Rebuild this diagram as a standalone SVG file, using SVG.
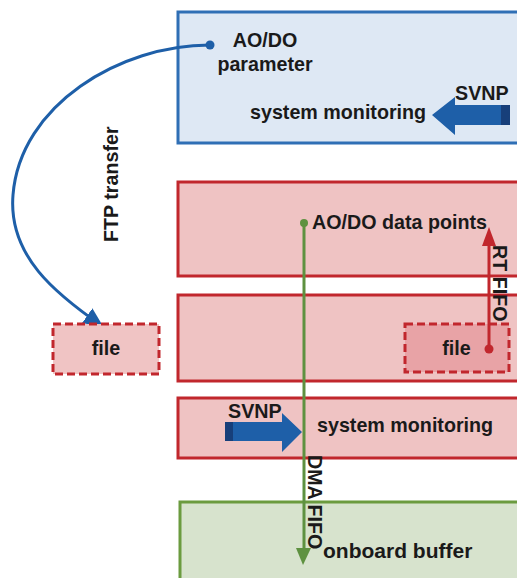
<svg xmlns="http://www.w3.org/2000/svg" width="517" height="578" viewBox="0 0 517 578">
<style>
text{font-family:"Liberation Sans",Arial,sans-serif;font-weight:bold;font-size:19.7px;fill:#1a1a1a}
.blue{fill:#DEE8F4;stroke:#2F6FB5;stroke-width:3}
.red{fill:#EFC3C3;stroke:#C1272D;stroke-width:3}
.green{fill:#D7E3CD;stroke:#6B9B3F;stroke-width:3}
.dash{stroke:#C1272D;stroke-width:3;stroke-dasharray:8 4}
.barrow{fill:#1E5FA8}
.bdark{fill:#173F7A}
</style>
<defs>
<marker id="ab" markerWidth="20" markerHeight="18" refX="18" refY="9" orient="auto" markerUnits="userSpaceOnUse" viewBox="0 0 20 18">
<path d="M0,0 L20,9 L0,18 z" fill="#1E5FA8"/>
</marker>
</defs>
<g id="blue-box">
<rect class="blue" x="178" y="12" width="360" height="131"/>
<text x="265" y="47" text-anchor="middle">AO/DO</text>
<text x="265" y="71" text-anchor="middle">parameter</text>
<text x="250" y="119">system monitoring</text>
<text x="455" y="100">SVNP</text>
<polygon class="barrow" points="432,115 455,97 455,105 510,105 510,125 455,125 455,135"/>
<rect class="bdark" x="501" y="105" width="9" height="20"/>
</g>
<g id="red-box-1">
<rect class="red" x="178" y="182" width="360" height="94"/>
<text x="312" y="229">AO/DO data points</text>
</g>
<g id="red-box-2">
<rect class="red" x="178" y="295" width="360" height="86"/>
<rect x="405" y="324" width="104" height="48" fill="#E8A3A6" class="dash"/>
<text x="456.5" y="355" text-anchor="middle">file</text>
</g>
<g id="red-box-3">
<rect class="red" x="178" y="398" width="360" height="60"/>
<text x="317" y="432">system monitoring</text>
<text x="228" y="418">SVNP</text>
<polygon class="barrow" points="225,422 282,422 282,413 302,432 282,452 282,441 225,441"/>
<rect class="bdark" x="225" y="422" width="8" height="19"/>
</g>
<g id="green-box">
<rect class="green" x="180" y="502" width="360" height="90"/>
<text x="323" y="558" style="font-size:21px">onboard buffer</text>
</g>
<g id="connectors">
<path d="M210,45 C120,45 20,105 13,195 C8,256 56,294 102,326" fill="none" stroke="#1E5FA8" stroke-width="3" marker-end="url(#ab)"/>
<circle cx="210" cy="45" r="4.5" fill="#1E5FA8"/>
<text transform="translate(118,242) rotate(-90)">FTP transfer</text>
<line x1="489" y1="349" x2="489" y2="244" stroke="#C1272D" stroke-width="3"/>
<polygon points="489,227 482,246 496,246" fill="#C1272D"/>
<circle cx="489" cy="349" r="4.5" fill="#C1272D"/>
<text transform="translate(493,245) rotate(90)">RT FIFO</text>
<line x1="304" y1="223" x2="304" y2="550" stroke="#5E9140" stroke-width="3"/>
<polygon points="303,565 296,548 311,548" fill="#5E9140"/>
<circle cx="304" cy="223" r="4" fill="#5E9140"/>
<text transform="translate(308,455) rotate(90)">DMA FIFO</text>
</g>
<g id="file-left">
<rect x="53" y="324" width="106" height="50" fill="#F0C4C4" class="dash"/>
<text x="106" y="355" text-anchor="middle">file</text>
</g>
</svg>
